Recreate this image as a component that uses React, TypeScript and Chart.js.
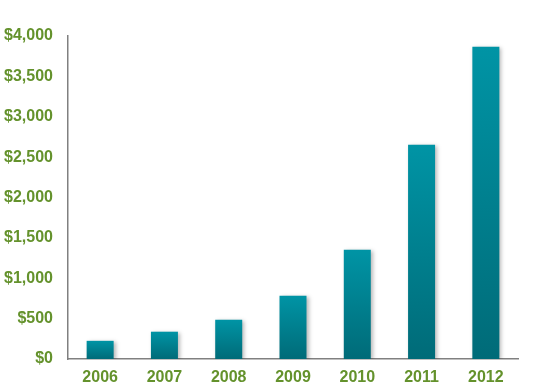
import React, { useEffect, useRef } from "react";
import { Chart, registerables } from "chart.js";

Chart.register(...registerables);

const years = ["2006", "2007", "2008", "2009", "2010", "2011", "2012"];
const values = [225, 338, 486, 783, 1352, 2652, 3868];
const yMax = 4000;
const yStep = 500;

const GREEN = "#64922c";

const shadowPlugin = {
  id: "barShadow",
  beforeDatasetsDraw(chart: any) {
    const ctx = chart.ctx;
    ctx.save();
    ctx.shadowColor = "rgba(0,0,0,0.28)";
    ctx.shadowBlur = 4;
    ctx.shadowOffsetX = 2;
    ctx.shadowOffsetY = 1;
  },
  afterDatasetsDraw(chart: any) {
    chart.ctx.restore();
  },
};

export default function App() {
  const ref = useRef<HTMLCanvasElement>(null);
  useEffect(() => {
    document.body.style.margin = "0";
    const canvas = ref.current!;
    const chart = new Chart(canvas, {
      type: "bar",
      data: {
        labels: years,
        datasets: [
          {
            data: values,
            backgroundColor: (c: any) => {
              const ch = c.chart;
              const area = ch.chartArea;
              if (!area || c.dataIndex === undefined) return "#00899a";
              const y = ch.scales.y;
              const top = y.getPixelForValue(values[c.dataIndex]);
              const bottom = y.getPixelForValue(0);
              const g = ch.ctx.createLinearGradient(0, top, 0, bottom);
              g.addColorStop(0, "#0094a5");
              g.addColorStop(1, "#006b78");
              return g;
            },
            borderWidth: 0,
            categoryPercentage: 1,
            barPercentage: 0.42,
          },
        ],
      },
      options: {
        animation: false,
        responsive: false,
        maintainAspectRatio: false,
        layout: { padding: { top: 36, right: 16, left: 0, bottom: 0 } },
        plugins: { legend: { display: false }, tooltip: { enabled: false } },
        scales: {
          x: {
            grid: { display: false, drawTicks: false },
            border: { display: true, color: "#808080", width: 1.5 },
            ticks: {
              color: GREEN,
              padding: 9,
              font: { family: "'Liberation Sans', Arial, sans-serif", size: 16, weight: "bold" },
            },
            afterFit: (s: any) => {
              s.height = 30;
            },
          },
          y: {
            min: 0,
            max: yMax,
            grid: { display: false, drawTicks: false },
            border: { display: true, color: "#808080", width: 1.5 },
            ticks: {
              stepSize: yStep,
              color: GREEN,
              padding: 15,
              font: { family: "'Liberation Sans', Arial, sans-serif", size: 16, weight: "bold" },
              callback: (v: any) => "$" + Number(v).toLocaleString("en-US"),
            },
            afterFit: (s: any) => {
              s.width = 68;
            },
          },
        },
      },
      plugins: [shadowPlugin],
    });
    return () => chart.destroy();
  }, []);
  return (
    <div style={{ width: 534, height: 389, background: "#fff" }}>
      <canvas ref={ref} width={534} height={389} style={{ display: "block" }} />
    </div>
  );
}
